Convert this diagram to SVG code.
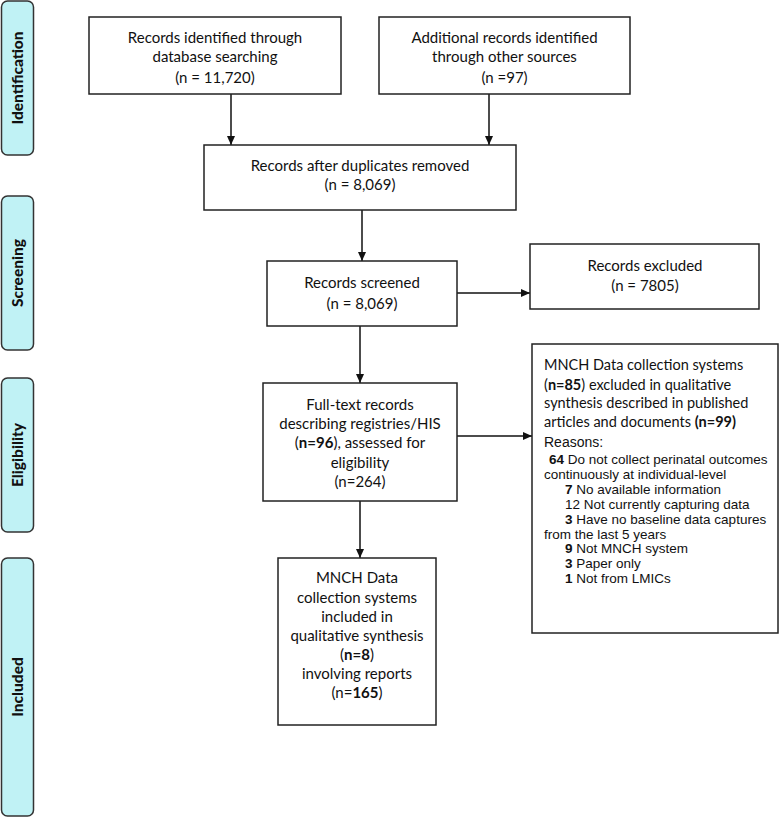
<svg xmlns="http://www.w3.org/2000/svg" width="779" height="818" viewBox="0 0 779 818">
<style>
.side{fill:#c0f2f5;stroke:#333;stroke-width:1.5}
.box{fill:#fff;stroke:#222;stroke-width:1.5}
.lab{font-family:Lato,"Liberation Sans",sans-serif;font-weight:900;font-size:15.5px;fill:#111;text-anchor:middle}
.t{font-family:Lato,"Liberation Sans",sans-serif;font-size:15px;fill:#111;text-anchor:middle}
.tl{font-family:Lato,"Liberation Sans",sans-serif;font-size:14.5px;fill:#111}
.a{font-family:"Liberation Sans",Arial,sans-serif;font-size:13.5px;fill:#111}
.b{font-weight:bold}
.con{stroke:#111;stroke-width:1.5;fill:none}
</style>
<defs>
<marker id="ah" markerWidth="10" markerHeight="10" refX="9" refY="5" orient="auto" markerUnits="userSpaceOnUse">
<path d="M0,1 L9,5 L0,9 Z" fill="#111"/>
</marker>
</defs>
<rect width="779" height="818" fill="#fff"/>
<g id="side-identification"><rect class="side" x="1.5" y="1" width="32" height="154" rx="6"/><text class="lab" transform="translate(23,78) rotate(-90)">Identification</text></g>
<g id="side-screening"><rect class="side" x="1.5" y="196" width="32" height="154" rx="6"/><text class="lab" transform="translate(23,273) rotate(-90)">Screening</text></g>
<g id="side-eligibility"><rect class="side" x="1.5" y="378" width="32" height="154" rx="6"/><text class="lab" transform="translate(23,455) rotate(-90)">Eligibility</text></g>
<g id="side-included"><rect class="side" x="1.5" y="558" width="32" height="258" rx="6"/><text class="lab" transform="translate(23,687) rotate(-90)">Included</text></g>

<g id="connectors">
<line class="con" x1="231" y1="94" x2="231" y2="145" marker-end="url(#ah)"/>
<line class="con" x1="489" y1="94" x2="489" y2="145" marker-end="url(#ah)"/>
<line class="con" x1="362" y1="210" x2="362" y2="261" marker-end="url(#ah)"/>
<line class="con" x1="457" y1="293" x2="530" y2="293" marker-end="url(#ah)"/>
<line class="con" x1="360" y1="326" x2="360" y2="383" marker-end="url(#ah)"/>
<line class="con" x1="457" y1="436" x2="532" y2="436" marker-end="url(#ah)"/>
<line class="con" x1="360" y1="501" x2="360" y2="558" marker-end="url(#ah)"/>
</g>

<g id="box-database"><rect class="box" x="89" y="17" width="252" height="77"/>
<text class="t" x="215" y="43">Records identified through</text>
<text class="t" x="215" y="62">database searching</text>
<text class="t" x="215" y="83">(n = 11,720)</text></g>
<g id="box-other"><rect class="box" x="379" y="17" width="251" height="77"/>
<text class="t" x="504.5" y="43">Additional records identified</text>
<text class="t" x="504.5" y="62">through other sources</text>
<text class="t" x="504.5" y="83">(n =97)</text></g>
<g id="box-duplicates"><rect class="box" x="204" y="145" width="312" height="65"/>
<text class="t" x="360" y="171">Records after duplicates removed</text>
<text class="t" x="360" y="190">(n = 8,069)</text></g>
<g id="box-screened"><rect class="box" x="267" y="261" width="190" height="65"/>
<text class="t" x="362" y="288">Records screened</text>
<text class="t" x="362" y="309">(n = 8,069)</text></g>
<g id="box-excluded"><rect class="box" x="530" y="244" width="229" height="65"/>
<text class="t" x="645" y="271">Records excluded</text>
<text class="t" x="645" y="291">(n = 7805)</text></g>
<g id="box-fulltext"><rect class="box" x="263" y="383" width="194" height="118"/>
<text class="t" x="360" y="410">Full-text records</text>
<text class="t" x="360" y="429">describing registries/HIS</text>
<text class="t" x="360" y="448">(<tspan class="b">n=96</tspan>), assessed for</text>
<text class="t" x="360" y="468">eligibility</text>
<text class="t" x="360" y="487">(n=264)</text></g>
<g id="box-exclusions"><rect class="box" x="532" y="344" width="246" height="289"/>
<text class="tl" x="544" y="370">MNCH Data collection systems</text>
<text class="tl" x="544" y="390">(<tspan class="b">n=85</tspan>) excluded in qualitative</text>
<text class="tl" x="544" y="408">synthesis described in published</text>
<text class="tl" x="544" y="427">articles and documents <tspan class="b">(n=99)</tspan></text>
<text class="a" x="544" y="447" style="font-size:14px">Reasons:</text>
<text class="a" x="549" y="464"><tspan class="b">64</tspan> Do not collect perinatal outcomes</text>
<text class="a" x="544" y="479">continuously at individual-level</text>
<text class="a" x="565" y="494"><tspan class="b">7</tspan> No available information</text>
<text class="a" x="565" y="509">12 Not currently capturing data</text>
<text class="a" x="565" y="524"><tspan class="b">3</tspan> Have no baseline data captures</text>
<text class="a" x="544" y="539">from the last 5 years</text>
<text class="a" x="565" y="553"><tspan class="b">9</tspan> Not MNCH system</text>
<text class="a" x="565" y="568"><tspan class="b">3</tspan> Paper only</text>
<text class="a" x="565" y="583"><tspan class="b">1</tspan> Not from LMICs</text></g>
<g id="box-included"><rect class="box" x="278" y="558" width="158" height="167"/>
<text class="t" x="357" y="583">MNCH Data</text>
<text class="t" x="357" y="603">collection systems</text>
<text class="t" x="357" y="622">included in</text>
<text class="t" x="357" y="641">qualitative synthesis</text>
<text class="t" x="357" y="660">(<tspan class="b">n=8</tspan>)</text>
<text class="t" x="357" y="679">involving reports</text>
<text class="t" x="357" y="698">(n=<tspan class="b">165</tspan>)</text></g>
</svg>
